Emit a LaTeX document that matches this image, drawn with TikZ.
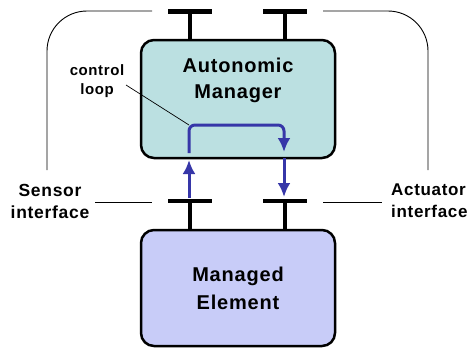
\documentclass[tikz,border=0pt]{standalone}
\usepackage{fontspec}
\usepackage{tikz}
\usetikzlibrary{arrows.meta,positioning,calc}
\newfontfamily\diagfont{Liberation Sans}[LetterSpace=4]
\definecolor{Mgr}{HTML}{BBE0E1}
\definecolor{Elem}{HTML}{C8CCF8}
\definecolor{Loop}{HTML}{3636A8}
\tikzset{
 box/.style={draw=black,line width=2.5pt,rounded corners=13pt,minimum width=194pt,align=center,
   font=\diagfont\bfseries\fontsize{20}{28}\selectfont},
 lbl/.style={align=center,inner sep=1pt,font=\diagfont\bfseries\fontsize{17.5}{22}\selectfont},
 tbar/.style={line width=4.5pt},
 wire/.style={line width=0.9pt},
 ctl/.style={draw=Loop,line width=3pt,-{Latex[width=13pt,length=14pt]}}
}
\begin{document}
\begin{tikzpicture}[x=1pt,y=-1pt]
\useasboundingbox (0,0) rectangle (470,349);
% boxes
\node[box,fill=Mgr,minimum height=118pt] (am) at (238,99) {};
\node[font=\diagfont\bfseries\fontsize{20}{26}\selectfont,align=center] (amtext) at (238,80) {Autonomic\\Manager};
\node[box,fill=Elem,minimum height=116pt] (me) at (238,288) {Managed\\Element};
% T connectors
\coordinate (st) at (190,11.5);\coordinate (at) at (285,11.5);
\coordinate (sb) at (190,201);\coordinate (ab) at (285,201);
\foreach \t in {st,at,sb,ab}
 \draw[tbar] ($(\t)+(-22,0)$) -- ($(\t)+(22,0)$);
\draw[tbar] (st) -- (st |- am.north);\draw[tbar] (at) -- (at |- am.north);
\draw[tbar] (sb) -- (sb |- me.north);\draw[tbar] (ab) -- (ab |- me.north);
% interface labels and outer lines
\node[lbl] (sens) at (50,201) {Sensor\\interface};
\node[lbl,anchor=west,align=left,font=\diagfont\bfseries\fontsize{17}{22}\selectfont] (act) at (390,201) {Actuator\\interface};
\coordinate (sl) at (152,202);\coordinate (al) at (323,202);
\draw[wire] (sens.east) ++(5,1) -- (sl);
\draw[wire] (al) -- ($(act.west)+(-8,1)$);
\draw[wire,rounded corners=40pt] (152,11) -- (47,11) -- (47,170);
\draw[wire,rounded corners=40pt] (323,11) -- (428,11) -- (428,170);
% control loop
\coordinate (l0) at (189,198);\coordinate (l1) at (189,160);
\coordinate (l2) at (189,153);\coordinate (l3) at (189,125);
\coordinate (r3) at (284,125);\coordinate (r2) at (284,152);
\coordinate (r1) at (284,158);\coordinate (r0) at (284,197);
\draw[ctl] (l0) -- (l1);
\draw[ctl,rounded corners=6pt] (l2) -- (l3) -- (r3) -- (r2);
\draw[ctl] (r1) -- (r0);
\node[font=\diagfont\bfseries\fontsize{15}{19}\selectfont,align=center] (cl) at (97,81) {control\\loop};
\draw[line width=0.7pt] (126,85) -- (l3);
\end{tikzpicture}
\end{document}
